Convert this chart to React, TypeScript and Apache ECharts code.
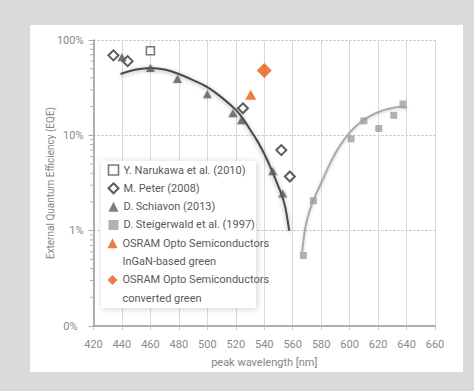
import React, { useEffect, useRef } from "react";
import * as echarts from "echarts";

const FONT = "Roboto, 'Liberation Sans', sans-serif";

// x ticks (nm) and y ticks (%)
const xTicks = [420, 440, 460, 480, 500, 520, 540, 560, 580, 600, 620, 640, 660];
const yMinorTicks = [0.2, 0.3, 0.4, 0.5, 0.6, 0.7, 0.8, 0.9, 2, 3, 4, 5, 6, 7, 8, 9, 20, 30, 40, 50, 60, 70, 80, 90];

// measured points [wavelength nm, EQE %]
const narukawa = [[460, 77]];
const peter = [[434, 69], [444, 60], [525, 19.2], [552, 7.0], [558, 3.7]];
const schiavon = [[440, 66], [460, 51], [479, 39], [500, 27], [518, 17], [524, 14.4], [546, 4.2], [553, 2.45]];
const steigerwald = [[567.5, 0.55], [574.5, 2.06], [601, 9.2], [610, 14.2], [620.5, 11.8], [631, 16.2], [637.5, 21.3]];
const osramInGaN = [[530.5, 26.7]];
const osramConverted = [[540, 48]];

// fitted trend curves
const fitInGaN = [[439, 44], [450, 49], [460, 51], [470, 49], [480, 44], [490, 38], [500, 32], [510, 25], [520, 18.5], [525, 15], [530, 11.5], [535, 8.8], [540, 6.4], [545, 4.4], [550, 2.9], [553, 2.2], [555, 1.7], [557.5, 1.0]];
const fitAlInGaP = [[566.6, 0.6], [567.4, 0.75], [568.4, 0.97], [569.8, 1.25], [571.8, 1.6], [574.4, 2.05], [577.6, 2.65], [581.4, 3.5], [586.2, 5.05], [593.2, 7.8], [600.3, 10.8], [607.3, 13.6], [614.3, 15.9], [621.3, 17.8], [628.4, 19.1], [635.4, 19.8], [640.3, 19.4]];

const names = [
  "Y. Narukawa et al. (2010)",
  "M. Peter (2008)",
  "D. Schiavon (2013)",
  "D. Steigerwald et al. (1997)",
  "OSRAM Opto Semiconductors",
  "OSRAM Opto Semiconductors ",
];
const secondLines = ["InGaN-based green", "converted green"];

const ORANGE = "#e85d10";
const DARK = "#4a4a4a";
const GRAY = "#9d9d9d";
const LEG_COLOR = "#5a5a5a";
const AX_COLOR = "#8a8a8a";

export default function App() {
  const ref = useRef<HTMLDivElement>(null);
  useEffect(() => {
    if (!ref.current) return;
    const chart = echarts.init(ref.current, null, { renderer: "svg" });
    const legendText = { color: LEG_COLOR, fontSize: 11, fontFamily: FONT, lineHeight: 14 };
    const option: any = {
      animation: false,
      backgroundColor: "#dadada",
      grid: { left: 93.5, right: 39, top: 40, bottom: 65, containLabel: false },
      graphic: [
        { type: "rect", z: -10, shape: { x: 30, y: 25, width: 433, height: 347 }, style: { fill: "#ffffff" } },
        {
          type: "rect", z: 3, shape: { x: 101, y: 161, width: 155, height: 147 },
          style: { fill: "#ffffff", shadowBlur: 6, shadowColor: "rgba(0,0,0,0.18)", shadowOffsetX: 1, shadowOffsetY: 1 },
        },
        { type: "text", z: 5, x: 122.5, y: 261.7, style: { text: secondLines[0], fill: LEG_COLOR, font: `11px ${FONT}`, verticalAlign: "middle" } },
        { type: "text", z: 5, x: 122.5, y: 298.3, style: { text: secondLines[1], fill: LEG_COLOR, font: `11px ${FONT}`, verticalAlign: "middle" } },
      ],
      legend: [
        {
          orient: "vertical", left: 107.5, top: 163, padding: 0, itemGap: 4.33, itemWidth: 10, itemHeight: 10,
          textStyle: legendText, selectedMode: false,
          data: [
            { name: names[0], icon: "rect", itemStyle: { color: "#fff", borderColor: "#555", borderWidth: 1.6 } },
            { name: names[1], icon: "diamond", itemStyle: { color: "#fff", borderColor: "#333", borderWidth: 2 } },
            { name: names[2], icon: "triangle", itemStyle: { color: "#5e5e5e", borderWidth: 0 } },
            { name: names[3], icon: "rect", itemStyle: { color: GRAY, borderWidth: 0 } },
          ],
        },
        {
          orient: "vertical", left: 107.5, top: 236.3, padding: 0, itemGap: 22.67, itemWidth: 10, itemHeight: 10,
          textStyle: legendText, selectedMode: false,
          formatter: (n: string) => n.trim(),
          data: [
            { name: names[4], icon: "triangle", itemStyle: { color: ORANGE, borderWidth: 0 } },
            { name: names[5], icon: "diamond", itemStyle: { color: ORANGE, borderWidth: 0 } },
          ],
        },
      ],
      xAxis: {
        type: "value", min: xTicks[0], max: xTicks[xTicks.length - 1], interval: 20,
        name: "peak wavelength [nm]", nameLocation: "middle", nameGap: 31, nameMoveOverlap: false,
        nameTextStyle: { color: "#858585", fontSize: 11, fontFamily: FONT },
        axisLine: { show: true, onZero: false, lineStyle: { color: "#9a9a9a", width: 1.5 } },
        axisTick: { show: true, length: 4, lineStyle: { color: "#c8c8c8" } },
        axisLabel: { color: AX_COLOR, fontSize: 11, fontFamily: FONT, margin: 13 },
        splitLine: { show: true, lineStyle: { color: "#dadada", width: 1, type: "solid" } },
      },
      yAxis: {
        type: "log", logBase: 10, min: 0.1, max: 100,
        name: "External Quantum Efficiency (EQE)", nameLocation: "middle", nameGap: 38, nameRotate: 90,
        nameMoveOverlap: false,
        nameTextStyle: { color: "#858585", fontSize: 10, fontFamily: FONT },
        axisLine: { show: true, lineStyle: { color: "#9a9a9a", width: 1.5 } },
        axisTick: { show: true, length: 5, lineStyle: { color: "#aaaaaa" } },
        axisLabel: {
          color: AX_COLOR, fontSize: 11, fontFamily: FONT, margin: 10,
          formatter: (v: number) => (v < 0.5 ? "{z|0%}" : `${Math.round(v)}%`),
          rich: { z: { color: AX_COLOR, fontSize: 11, fontFamily: FONT, padding: [0, 6, 0, 0] } },
        },
        splitLine: { show: true, lineStyle: { color: "#bdbdbd", width: 1, type: [2, 2] } },
      },
      series: [
        {
          type: "custom", silent: true, z: 1, clip: false,
          data: yMinorTicks.map((v) => [xTicks[0], v]),
          renderItem: (_p: any, api: any) => {
            const pt = api.coord([api.value(0), api.value(1)]);
            return { type: "line", shape: { x1: pt[0] - 3.5, y1: pt[1], x2: pt[0], y2: pt[1] }, style: { stroke: "#b0b0b0", lineWidth: 1 } };
          },
        },
        {
          type: "line", data: fitInGaN, smooth: 0.4, showSymbol: false, silent: true, z: 2,
          lineStyle: { color: DARK, width: 2, shadowBlur: 4, shadowColor: "rgba(0,0,0,0.35)", shadowOffsetY: 1 },
        },
        {
          type: "line", data: fitAlInGaP, smooth: 0.5, showSymbol: false, silent: true, z: 2,
          lineStyle: { color: "#aaaaaa", width: 2, shadowBlur: 3, shadowColor: "rgba(0,0,0,0.2)", shadowOffsetY: 1 },
        },
        {
          name: names[0], type: "scatter", data: narukawa, symbol: "rect", symbolSize: 8, z: 4,
          itemStyle: { color: "#fff", borderColor: "#555", borderWidth: 1.6 },
        },
        {
          name: names[1], type: "scatter", data: peter, symbol: "diamond", symbolSize: 10, z: 4,
          itemStyle: { color: "#fff", borderColor: "#333", borderWidth: 2 },
        },
        {
          name: names[2], type: "scatter", data: schiavon, symbol: "triangle", symbolSize: [9, 8], z: 4,
          itemStyle: { color: "#5e5e5e", shadowBlur: 2, shadowColor: "rgba(0,0,0,0.3)" },
        },
        {
          name: names[3], type: "scatter", data: steigerwald, symbol: "rect", symbolSize: 7, z: 4,
          itemStyle: { color: GRAY },
        },
        {
          name: names[4], type: "scatter", data: osramInGaN, symbol: "triangle", symbolSize: [11, 10], z: 4,
          itemStyle: { color: ORANGE },
        },
        {
          name: names[5], type: "scatter", data: osramConverted, symbol: "diamond", symbolSize: 15, z: 4,
          itemStyle: { color: ORANGE },
        },
      ],
    };
    chart.setOption(option);
    return () => chart.dispose();
  }, []);
  return <div ref={ref} style={{ position: "fixed", left: 0, top: 0, width: 474, height: 391 }} />;
}
